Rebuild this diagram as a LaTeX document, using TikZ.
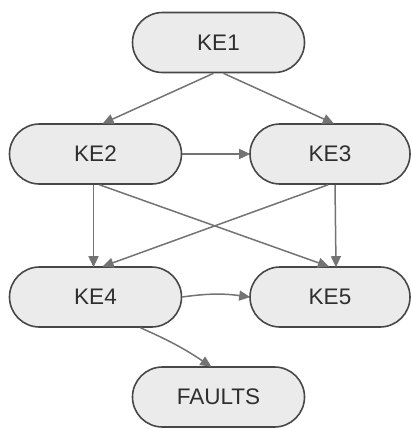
\documentclass[tikz,border=0pt]{standalone}
\usepackage{fontspec}
\setmainfont{Liberation Sans}
\usetikzlibrary{shapes.misc,arrows.meta}
\begin{document}
\begin{tikzpicture}[x=1pt,y=-1pt,
  ke/.style={rounded rectangle, draw=black!72, fill=black!8, line width=1.6pt,
    minimum height=60pt, inner sep=0pt, font=\fontsize{22.5}{26}\selectfont, text=black!82},
  wide/.style={minimum width=172pt},
  narrow/.style={minimum width=160pt},
  arr/.style={draw=black!55, line width=1.5pt, -{Triangle[length=11pt,width=10pt,fill=black!55]}, shorten >=-1pt}]
\useasboundingbox (0,0) rectangle (411,429);
\node[ke,wide]   (ke1) at (218.5,42.5)  {KE1};
\node[ke,wide]   (ke2) at (95.5,154) {KE2};
\node[ke,narrow] (ke3) at (330,154) {KE3};
\node[ke,wide]   (ke4) at (95.5,297) {KE4};
\node[ke,narrow] (ke5) at (330,297) {KE5};
\node[ke,wide]   (fa)  at (218.5,397) {FAULTS};
\draw[arr] ([xshift=-5pt]ke1.south) -- ([xshift=8pt]ke2.north);
\draw[arr] ([xshift=5pt]ke1.south) -- ([xshift=3pt]ke3.north);
\draw[arr] (ke2.east) -- (ke3.west);
\draw[arr] ([xshift=-2pt]ke2.south) -- ([xshift=-2pt]ke4.north);
\draw[arr] ([xshift=4pt]ke2.south) -- ([xshift=-2pt]ke5.north);
\draw[arr] ([xshift=-2pt]ke3.south) -- ([xshift=8pt]ke4.north);
\draw[arr] ([xshift=5pt]ke3.south) -- ([xshift=6pt]ke5.north);
\draw[arr] (ke4.east) to[bend left=8] (ke5.west);
\draw[arr] ([xshift=45pt]ke4.south) to[bend left=5] ([xshift=-8pt]fa.north);
\end{tikzpicture}
\end{document}
